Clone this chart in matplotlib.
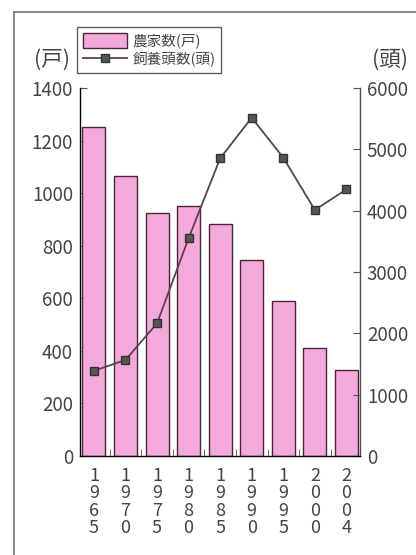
import numpy as np
import matplotlib.pyplot as plt
from matplotlib.lines import Line2D
from matplotlib.patches import Patch

################################
# Data
################################
years = ['1965', '1970', '1975', '1980', '1985', '1990', '1995', '2000', '2004']
farms = [1250, 1066, 923, 950, 884, 746, 588, 411, 326]      # 農家数(戸)
heads = [1390, 1565, 2163, 3550, 4854, 5516, 4864, 4011, 4348]  # 飼養頭数(頭)

plt.rcParams['font.family'] = ['Noto Sans CJK JP', 'DejaVu Sans']

bar_color = '#f4a9db'
bar_edge = '#4a2535'
line_color = '#5a4252'
text_color = '#444444'

W, H = 416, 555
fig = plt.figure(figsize=(W / 100, H / 100), dpi=100)
ax = fig.add_axes([80 / W, 1 - 456 / H, 280 / W, 368 / H])

x = np.arange(len(years))
ax.bar(x, farms, width=0.73, color=bar_color, edgecolor=bar_edge, linewidth=1.0, zorder=2)
ax.set_xlim(-0.44, 8.43)
ax.set_ylim(0, 1400)
ax.set_yticks(range(0, 1401, 200))
ax.tick_params(axis='y', direction='in', length=5, labelsize=13.5,
               labelcolor=text_color, color='#555', pad=5)
ax.set_xticks(x)
ax.set_xticklabels(['\n'.join(y) for y in years], linespacing=0.95,
                   fontsize=13, color=text_color, va='top')
ax.set_xticks(x[:-1] + 0.5, minor=True)
ax.tick_params(axis='x', which='major', length=0, pad=8)
ax.tick_params(axis='x', which='minor', direction='in', length=5, color='#555')
ax.spines['top'].set_visible(False)
for s in ['left', 'bottom', 'right']:
    ax.spines[s].set_color('#555')
    ax.spines[s].set_linewidth(1.0)

ax2 = ax.twinx()
ax2.plot(x, heads, color=line_color, lw=1.3, marker='s', ms=6,
         mfc='#555555', mec='#333333', zorder=3)
ax2.set_ylim(0, 6000)
ax2.set_yticks(range(0, 6001, 1000))
ax2.tick_params(axis='y', direction='in', length=5, labelsize=13.5,
                labelcolor=text_color, color='#555', pad=5)
ax2.spines['top'].set_visible(False)
ax2.spines['right'].set_color('#555')

# unit labels
fig.text(52 / W, 1 - 60 / H, '(戸)', ha='center', va='center', fontsize=15.5, color=text_color)
fig.text(390 / W, 1 - 60 / H, '(頭)', ha='center', va='center', fontsize=15.5, color=text_color)

# legend
handles = [Patch(facecolor=bar_color, edgecolor=bar_edge, linewidth=1.0),
           Line2D([], [], color=line_color, lw=1.3, marker='s', ms=6,
                  mfc='#555555', mec='#333333')]
leg = fig.legend(handles, ['農家数(戸)', '飼養頭数(頭)'], loc='upper left',
                 bbox_to_anchor=(77 / W, 1 - 27 / H), fontsize=10.5,
                 frameon=True, fancybox=False, edgecolor='#333333',
                 handlelength=3.0, handleheight=1.2, handletextpad=0.4,
                 borderpad=0.4, labelspacing=0.25, borderaxespad=0)
leg.get_frame().set_linewidth(1.0)
for t in leg.get_texts():
    t.set_color(text_color)

# outer frame (top and left edges visible in the reference)
fig.add_artist(Line2D([14 / W, 14 / W], [0, 1 - 12 / H], transform=fig.transFigure,
                      color='#777777', lw=1.2))
fig.add_artist(Line2D([14 / W, 1], [1 - 12 / H, 1 - 12 / H], transform=fig.transFigure,
                      color='#777777', lw=1.2))

fig.savefig('out.png', dpi=100)
